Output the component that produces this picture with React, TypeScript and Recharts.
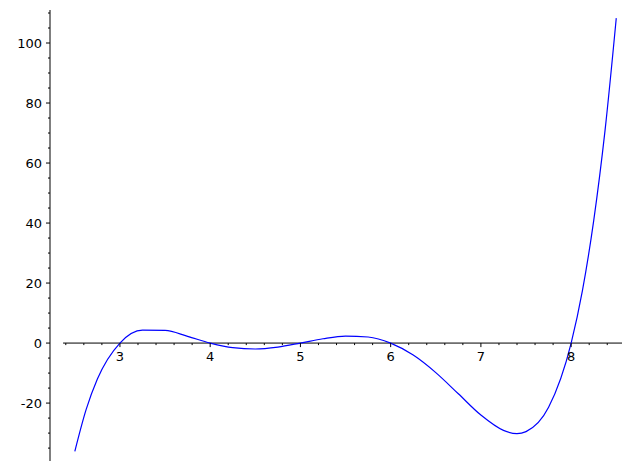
import React from 'react';
import { LineChart, Line, XAxis, YAxis, ReferenceLine } from 'recharts';

const xs = [2.5, 2.625, 2.75, 3, 3.25, 3.5, 3.75, 4, 4.25, 4.5, 4.75, 5, 5.25, 5.5, 5.75, 6, 6.25, 6.5, 6.75, 7, 7.25, 7.4, 7.5, 7.75, 8, 8.125, 8.25, 8.375, 8.5];
const ys = [-36.1, -22.2, -12.0, 0, 4.29, 4.22, 2.24, 0, -1.54, -1.97, -1.33, 0, 1.45, 2.34, 2.03, 0, -4.0, -9.84, -16.9, -24, -29.1, -30.2, -29.5, -21.4, 0, 17.5, 40.8, 70.7, 108.3];
const xTicks = [2.4, 2.6, 2.8, 3, 3.2, 3.4, 3.6, 3.8, 4, 4.2, 4.4, 4.6, 4.8, 5, 5.2, 5.4, 5.6, 5.8, 6, 6.2, 6.4, 6.6, 6.8, 7, 7.2, 7.4, 7.6, 7.8, 8, 8.2, 8.4, 8.6];
const yTicks = [-35, -30, -25, -20, -15, -10, -5, 0, 5, 10, 15, 20, 25, 30, 35, 40, 45, 50, 55, 60, 65, 70, 75, 80, 85, 90, 95, 100, 105, 110];

const data = xs.map((x, i) => ({ x, y: ys[i] }));
const Y0 = 335.1;
const FONT = 'DejaVu Sans';

const XTick = (props: any) => {
  const { x, payload } = props;
  const v = payload.value;
  const major = Math.abs(v - Math.round(v)) < 1e-6;
  return (
    <g>
      <line x1={x} x2={x} y1={Y0} y2={Y0 + (major ? 4 : 2)} stroke="#000" strokeWidth={1} />
      {major && (
        <text x={x} y={Y0 + 18} textAnchor="middle" fontSize={13} fontFamily={FONT} fill="#000">
          {Math.round(v)}
        </text>
      )}
    </g>
  );
};

const YTick = (props: any) => {
  const { x, y, payload } = props;
  const v = payload.value;
  const major = v % 20 === 0;
  const ax = 42;
  return (
    <g>
      <line x1={ax} x2={ax - (major ? 4 : 2)} y1={y} y2={y} stroke="#000" strokeWidth={1} />
      {major && (
        <text x={ax - 8} y={y + 5} textAnchor="end" fontSize={13} fontFamily={FONT} fill="#000">
          {v}
        </text>
      )}
    </g>
  );
};

export default function App() {
  return (
    <LineChart width={630} height={470} data={data} margin={{ top: 2, right: 10, bottom: 0, left: 0 }}>
      <XAxis
        dataKey="x"
        type="number"
        domain={[2.225, 8.63]}
        ticks={xTicks}
        interval={0}
        allowDataOverflow
        axisLine={false}
        tickLine={false}
        tick={<XTick />}
        height={17}
      />
      <YAxis
        type="number"
        domain={[-39.3, 111]}
        ticks={yTicks}
        interval={0}
        allowDataOverflow
        width={42}
        axisLine={{ stroke: '#000' }}
        tickLine={false}
        tick={<YTick />}
      />
      <ReferenceLine
        segment={[{ x: 2.37, y: 0 }, { x: 8.63, y: 0 }]}
        stroke="#000"
        strokeWidth={1}
        ifOverflow="extendDomain"
      />
      <Line type="monotone" dataKey="y" stroke="#0000ff" strokeWidth={1.2} dot={false} isAnimationActive={false} />
    </LineChart>
  );
}
